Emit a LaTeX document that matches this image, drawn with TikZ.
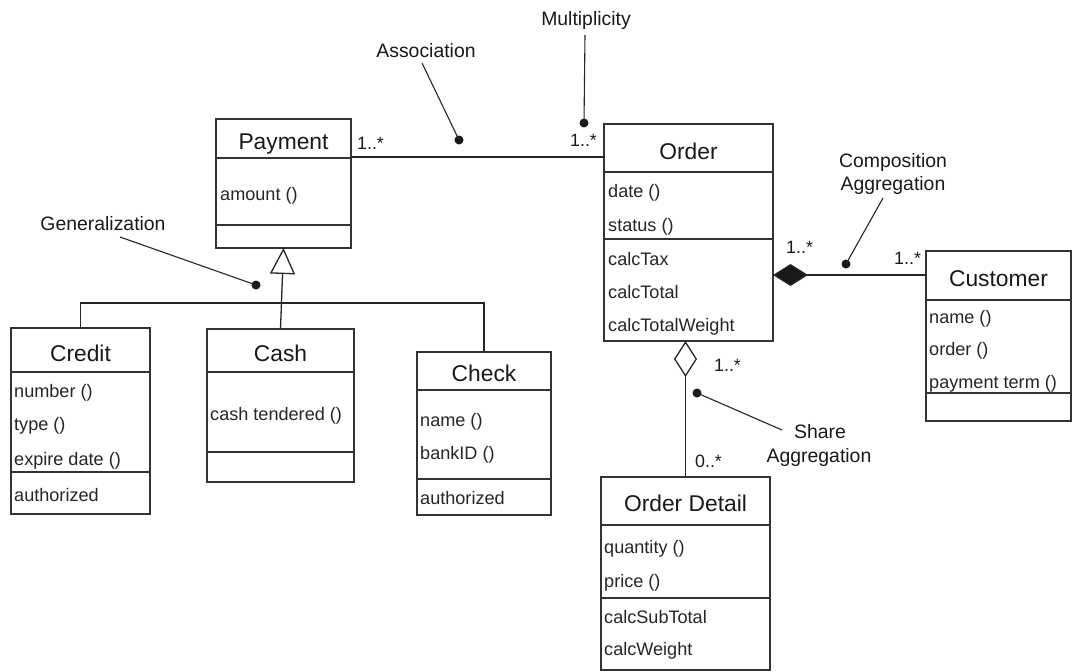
\documentclass[tikz,border=0pt]{standalone}
\usepackage{fontspec}
\setmainfont{Liberation Sans}
\usetikzlibrary{arrows.meta}
\begin{document}
\begin{tikzpicture}[x=1pt,y=-1pt,
  classbox/.style={draw=black!80, line width=1.2pt, fill=white, anchor=north west,
                   inner sep=0pt, outer sep=0pt},
  classname/.style={font=\fontsize{22.8}{26}\selectfont, text=black!90, inner sep=0pt, anchor=base},
  member/.style={font=\fontsize{18.1}{20}\selectfont, text=black!85, inner sep=0pt, anchor=base west},
  note/.style={font=\fontsize{19.4}{22}\selectfont, text=black!90, inner sep=0pt, anchor=base},
  mult/.style={font=\fontsize{17.8}{20}\selectfont, text=black!90, inner sep=0pt, anchor=base west},
  sep/.style={draw=black!80, line width=1.2pt},
  link/.style={draw=black!85, line width=1.3pt},
  leader/.style={draw=black!85, line width=1.1pt},
  pin/.style={circle, fill=black!90, inner sep=0pt, minimum size=9pt},
]
\useasboundingbox (0,0) rectangle (1072,672);

% ---------- class boxes ----------
\node[classbox, minimum width=135pt, minimum height=129pt] (payment) at (216,119) {};
\node[classbox, minimum width=169pt, minimum height=217pt] (order) at (604,124) {};
\node[classbox, minimum width=145pt, minimum height=170pt] (customer) at (926,251) {};
\node[classbox, minimum width=169pt, minimum height=193pt] (detail) at (601,477) {};
\node[classbox, minimum width=139pt, minimum height=186pt] (credit) at (11,328) {};
\node[classbox, minimum width=147pt, minimum height=153pt] (cash) at (207,329) {};
\node[classbox, minimum width=134pt, minimum height=163pt] (check) at (417,352) {};

% compartment separators
\draw[sep] (216,158) -- (351,158);  \draw[sep] (216,225) -- (351,225);
\draw[sep] (604,172) -- (773,172);  \draw[sep] (604,239) -- (773,239);
\draw[sep] (926,300) -- (1071,300); \draw[sep] (926,393) -- (1071,393);
\draw[sep] (601,525) -- (770,525);  \draw[sep] (601,598) -- (770,598);
\draw[sep] (11,372) -- (150,372);   \draw[sep] (11,472) -- (150,472);
\draw[sep] (207,372) -- (354,372);  \draw[sep] (207,452) -- (354,452);
\draw[sep] (417,390) -- (551,390);  \draw[sep] (417,479) -- (551,479);

% class names
\node[classname] (payment-n) at (283.5,149) {Payment};
\node[classname] (order-n) at (688.5,159) {Order};
\node[classname] (customer-n) at (998.5,286) {Customer};
\node[classname] (detail-n) at (685.5,511) {Order Detail};
\node[classname] (credit-n) at (80.5,361) {Credit};
\node[classname] (cash-n) at (280.5,361) {Cash};
\node[classname] (check-n) at (484,381) {Check};

% members
\node[member] (p1) at (220,200) {amount ()};

\node[member] (o1) at (608,197) {date ()};
\node[member] (o2) at (608,231) {status ()};
\node[member] (o3) at (608,265) {calcTax};
\node[member] (o4) at (608,298) {calcTotal};
\node[member] (o5) at (608,331) {calcTotalWeight};

\node[member] (c1) at (929,323) {name ()};
\node[member] (c2) at (929,355) {order ()};
\node[member] (c3) at (929,388) {payment term ()};

\node[member] (d1) at (604,553) {quantity ()};
\node[member] (d2) at (604,587) {price ()};
\node[member] (d3) at (604,623) {calcSubTotal};
\node[member] (d4) at (604,655) {calcWeight};

\node[member] (cr1) at (14,397) {number ()};
\node[member] (cr2) at (14,430) {type ()};
\node[member] (cr3) at (14,465) {expire date ()};
\node[member] (cr4) at (14,501) {authorized};

\node[member] (ca1) at (210,420) {cash tendered ()};

\node[member] (ch1) at (420,426) {name ()};
\node[member] (ch2) at (420,459) {bankID ()};
\node[member] (ch3) at (420,504) {authorized};

% ---------- relationships ----------
\coordinate (assocy) at (0,157);
\draw[link] (payment.east |- assocy) -- (order.west |- assocy);

\coordinate (compy) at (0,275);
\draw[link, {Diamond[length=35pt,width=22pt,fill=black!90]}-]
  (order.east |- compy) -- (customer.west |- compy);

\draw[link, {Diamond[open,length=36pt,width=23pt,fill=white]}-]
  (order.south -| detail.north) -- (detail.north);

\coordinate (genbar) at (0,303);
\draw[link] (credit.north) |- (check.north |- genbar) -- (check.north);
\draw[link, -{Triangle[open,length=26pt,width=25pt,fill=white]}] (cash.north) -- (payment.south);

% multiplicities
\node[mult] (m1) at (357,149) {1..*};
\node[mult] (m2) at (570,146) {1..*};
\node[mult] (m3) at (786,253) {1..*};
\node[mult] (m4) at (894,264) {1..*};
\node[mult] (m5) at (714,371) {1..*};
\node[mult] (m6) at (695,467) {0..*};

% ---------- annotations ----------
\node[note] (assoc-l) at (426,57) {Association};
\node[note] (multi-l) at (586,25) {Multiplicity};
\node[note] (gen-l) at (103,230) {Generalization};
\node[note] (comp-l1) at (893,167) {Composition};
\node[note] (comp-l2) at (893,190) {Aggregation};
\node[note] (share-l1) at (820,438) {Share};
\node[note] (share-l2) at (819,462) {Aggregation};

\node[pin] (assoc-p) at (459,140) {};
\node[pin] (multi-p) at (584,123) {};
\node[pin] (gen-p) at (256,285) {};
\node[pin] (comp-p) at (846,264) {};
\node[pin] (share-p) at (697,393) {};

\coordinate (assoc-e) at (422,63);
\coordinate (multi-e) at (585,35);
\coordinate (gen-e) at (120,237);
\coordinate (comp-e) at (883,198);
\coordinate (share-e) at (782,430);

\draw[leader] (assoc-e) -- (assoc-p.center);
\draw[leader] (multi-e) -- (multi-p.center);
\draw[leader] (gen-e) -- (gen-p.center);
\draw[leader] (comp-e) -- (comp-p.center);
\draw[leader] (share-e) -- (share-p.center);
\end{tikzpicture}
\end{document}
